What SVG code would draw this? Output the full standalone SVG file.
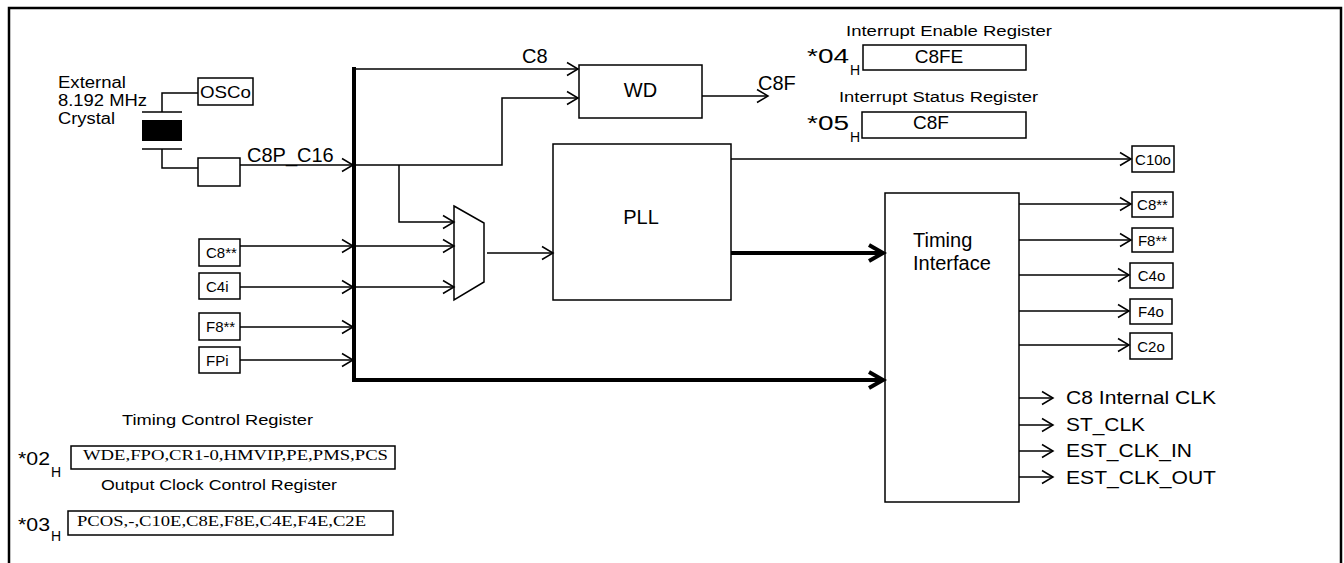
<svg xmlns="http://www.w3.org/2000/svg" width="1344" height="563" viewBox="0 0 1344 563">
<style>
.b{fill:#fff;stroke:#000;stroke-width:1.5}
.l{fill:none;stroke:#000;stroke-width:1.5}
.k{fill:none;stroke:#000;stroke-width:4}
text{font-family:"Liberation Sans",Arial,sans-serif;fill:#000}
.s{font-family:"Liberation Serif","Times New Roman",serif}
.m{text-anchor:middle}
</style>
<defs>
<marker id="a" markerUnits="userSpaceOnUse" markerWidth="16" markerHeight="18" refX="13" refY="9" orient="auto"><path d="M2,2.5 L13,9 L2,15.5" fill="none" stroke="#000" stroke-width="1.5"/></marker>
<marker id="at" markerUnits="userSpaceOnUse" markerWidth="22" markerHeight="22" refX="17" refY="11" orient="auto"><path d="M3,3 L17,11 L3,19" fill="none" stroke="#000" stroke-width="4"/></marker>
</defs>
<rect x="9" y="8" width="1332" height="600" fill="#fff" stroke="#000" stroke-width="2.5"/>

<g id="crystal">
<text x="58" y="88" font-size="16" textLength="68" lengthAdjust="spacingAndGlyphs">External</text>
<text x="58" y="106" font-size="16" textLength="89" lengthAdjust="spacingAndGlyphs">8.192 MHz</text>
<text x="58" y="124" font-size="16" textLength="57" lengthAdjust="spacingAndGlyphs">Crystal</text>
<line class="l" x1="142" y1="112" x2="182" y2="112"/>
<rect x="142" y="120" width="40" height="21" fill="#000"/>
<line class="l" x1="142" y1="149" x2="182" y2="149"/>
</g>
<g id="osco"><rect class="b" x="198" y="78" width="55" height="27"/><text x="200" y="98" font-size="17" textLength="51" lengthAdjust="spacingAndGlyphs">OSCo</text></g>
<g id="buffer"><rect class="b" x="198" y="158" width="42" height="28"/></g>
<g id="wd"><rect class="b" x="579" y="65" width="123" height="53"/><text class="m" x="640.5" y="97" font-size="20">WD</text></g>
<g id="mux"><polygon class="b" points="454,206 484,223 484,282 454,300"/></g>
<g id="pll"><rect class="b" x="553" y="144" width="178" height="156"/><text class="m" x="641" y="224" font-size="20">PLL</text></g>
<g id="timing"><rect class="b" x="885" y="193" width="134" height="309"/><text x="913" y="247" font-size="20">Timing</text><text x="913" y="270" font-size="20">Interface</text></g>

<g id="in-c8"><rect class="b" x="199" y="239" width="41" height="27"/><text x="206" y="258" font-size="15">C8**</text></g>
<g id="in-c4i"><rect class="b" x="199" y="273" width="41" height="26"/><text x="206" y="292" font-size="15">C4i</text></g>
<g id="in-f8"><rect class="b" x="199" y="313" width="41" height="27"/><text x="206" y="332" font-size="15">F8**</text></g>
<g id="in-fpi"><rect class="b" x="199" y="347" width="41" height="26"/><text x="206" y="366" font-size="15">FPi</text></g>

<g id="out-c10o"><rect class="b" x="1132" y="146" width="42" height="26"/><text class="m" x="1153" y="165" font-size="15">C10o</text></g>
<g id="out-c8"><rect class="b" x="1132" y="192" width="41" height="25"/><text class="m" x="1152.5" y="210" font-size="15">C8**</text></g>
<g id="out-f8"><rect class="b" x="1132" y="228" width="41" height="24"/><text class="m" x="1152.5" y="246" font-size="15">F8**</text></g>
<g id="out-c4o"><rect class="b" x="1130" y="263" width="43" height="25"/><text class="m" x="1151.5" y="281" font-size="15">C4o</text></g>
<g id="out-f4o"><rect class="b" x="1130" y="299" width="42" height="25"/><text class="m" x="1151" y="317" font-size="15">F4o</text></g>
<g id="out-c2o"><rect class="b" x="1130" y="333" width="42" height="26"/><text class="m" x="1151" y="352" font-size="15">C2o</text></g>

<g id="reg-04">
<text x="846" y="36" font-size="15.5" textLength="206" lengthAdjust="spacingAndGlyphs">Interrupt Enable Register</text>
<text x="807" y="63" font-size="20" textLength="42" lengthAdjust="spacingAndGlyphs">*04</text><text x="850" y="75" font-size="14" fill="#000">H</text>
<rect class="b" x="863" y="45" width="163" height="25"/>
<text class="m" x="939" y="63" font-size="19">C8FE</text>
</g>
<g id="reg-05">
<text x="839" y="102" font-size="15.5" textLength="199" lengthAdjust="spacingAndGlyphs">Interrupt Status Register</text>
<text x="807" y="130" font-size="20" textLength="42" lengthAdjust="spacingAndGlyphs">*05</text><text x="850" y="142" font-size="14" fill="#000">H</text>
<rect class="b" x="862" y="112" width="164" height="26"/>
<text class="m" x="931" y="129" font-size="19">C8F</text>
</g>
<g id="reg-02">
<text x="122" y="425" font-size="15.5" textLength="191" lengthAdjust="spacingAndGlyphs">Timing Control Register</text>
<text x="18" y="465" font-size="18" textLength="32" lengthAdjust="spacingAndGlyphs">*02</text><text x="51" y="477" font-size="14" fill="#000">H</text>
<rect class="b" x="71" y="446" width="324" height="23"/>
<text class="s" x="83" y="460" font-size="15" textLength="305" lengthAdjust="spacingAndGlyphs">WDE,FPO,CR1-0,HMVIP,PE,PMS,PCS</text>
</g>
<g id="reg-03">
<text x="101" y="490" font-size="15.5" textLength="236" lengthAdjust="spacingAndGlyphs">Output Clock Control Register</text>
<text x="18" y="531" font-size="18" textLength="32" lengthAdjust="spacingAndGlyphs">*03</text><text x="51" y="541" font-size="14" fill="#000">H</text>
<rect class="b" x="68" y="511" width="325" height="24"/>
<text class="s" x="77" y="526" font-size="15" textLength="289" lengthAdjust="spacingAndGlyphs">PCOS,-,C10E,C8E,F8E,C4E,F4E,C2E</text>
</g>

<g id="connectors">
<path class="l" d="M198,93 H162 V112"/>
<path class="l" d="M162,149 V168 H198"/>
<line class="l" x1="240" y1="165" x2="353" y2="165" marker-end="url(#a)"/>
<path class="l" d="M354,165 H502 V98 H578" marker-end="url(#a)"/>
<path class="l" d="M399,165 V222 H454" marker-end="url(#a)"/>
<line class="l" x1="354" y1="69" x2="578" y2="69" marker-end="url(#a)"/>
<line class="l" x1="702" y1="96" x2="768" y2="96" marker-end="url(#a)"/>
<line class="l" x1="240" y1="246" x2="353" y2="246" marker-end="url(#a)"/>
<line class="l" x1="354" y1="246" x2="454" y2="246" marker-end="url(#a)"/>
<line class="l" x1="240" y1="287" x2="353" y2="287" marker-end="url(#a)"/>
<line class="l" x1="354" y1="287" x2="454" y2="287" marker-end="url(#a)"/>
<line class="l" x1="240" y1="327" x2="353" y2="327" marker-end="url(#a)"/>
<line class="l" x1="240" y1="360" x2="353" y2="360" marker-end="url(#a)"/>
<line class="k" x1="354" y1="67" x2="354" y2="382"/>
<line class="k" x1="352" y1="380" x2="883" y2="380" marker-end="url(#at)"/>
<line class="l" x1="487" y1="253" x2="553" y2="253" marker-end="url(#a)"/>
<line class="k" x1="731" y1="253" x2="883" y2="253" marker-end="url(#at)"/>
<line class="l" x1="731" y1="159" x2="1131" y2="159" marker-end="url(#a)"/>
<line class="l" x1="1019" y1="204" x2="1131" y2="204" marker-end="url(#a)"/>
<line class="l" x1="1019" y1="240" x2="1131" y2="240" marker-end="url(#a)"/>
<line class="l" x1="1019" y1="275" x2="1129" y2="275" marker-end="url(#a)"/>
<line class="l" x1="1019" y1="311" x2="1129" y2="311" marker-end="url(#a)"/>
<line class="l" x1="1019" y1="345" x2="1129" y2="345" marker-end="url(#a)"/>
<line class="l" x1="1019" y1="398" x2="1053" y2="398" marker-end="url(#a)"/>
<line class="l" x1="1019" y1="425" x2="1053" y2="425" marker-end="url(#a)"/>
<line class="l" x1="1019" y1="451" x2="1053" y2="451" marker-end="url(#a)"/>
<line class="l" x1="1019" y1="477" x2="1053" y2="477" marker-end="url(#a)"/>
<text x="247" y="162" font-size="20">C8P_C16</text>
<text x="522" y="63" font-size="20">C8</text>
<text x="758" y="90" font-size="20">C8F</text>
<text x="1066" y="404" font-size="19" textLength="150" lengthAdjust="spacingAndGlyphs">C8 Internal CLK</text>
<text x="1066" y="431" font-size="19" textLength="79" lengthAdjust="spacingAndGlyphs">ST_CLK</text>
<text x="1066" y="457" font-size="19" textLength="126" lengthAdjust="spacingAndGlyphs">EST_CLK_IN</text>
<text x="1066" y="484" font-size="19" textLength="150" lengthAdjust="spacingAndGlyphs">EST_CLK_OUT</text>
</g>
</svg>
